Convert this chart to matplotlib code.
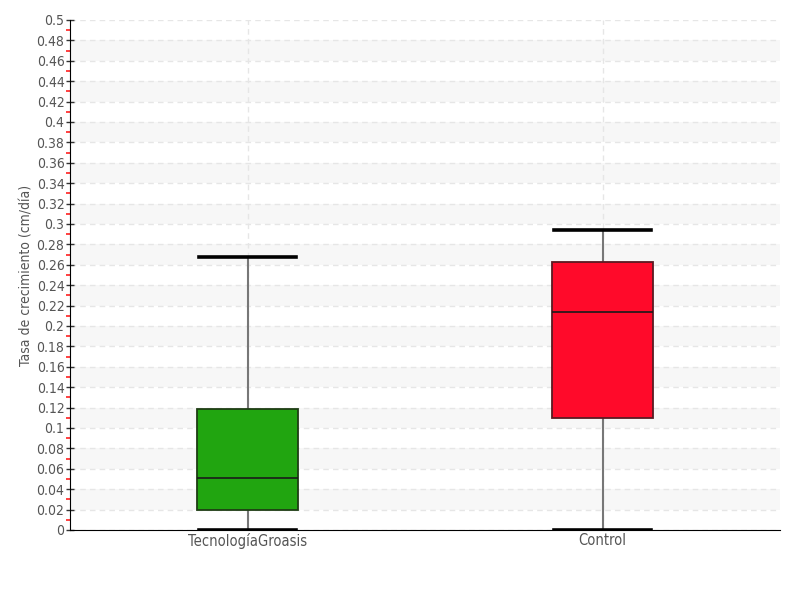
import matplotlib
matplotlib.use("Agg")
import matplotlib.pyplot as plt
from matplotlib.ticker import FuncFormatter, MultipleLocator

categories = ["TecnologíaGroasis", "Control"]
whislo = [0.0, 0.0]
q1 = [0.0196, 0.110]
med = [0.0505, 0.2137]
q3 = [0.1186, 0.2632]
whishi = [0.2672, 0.2941]
colors = ["#21a510", "#ff0a2a"]
edgecolors = ["#1e3d14", "#5a1a22"]

plt.rcParams['font.family'] = ['DejaVu Sans']
fig = plt.figure(figsize=(8, 6), dpi=100)
ax = fig.add_axes([0.0875, 0.1167, 0.8875, 0.85])

positions = [0.5, 1.5]
stats = []
for i, c in enumerate(categories):
    stats.append(dict(label=c, whislo=whislo[i], q1=q1[i], med=med[i], q3=q3[i], whishi=whishi[i], fliers=[]))

ax.set_xlim(0, 2)
ax.set_ylim(0, 0.5)

# alternating bands
for y0 in [0.02 + 0.04 * k for k in range(12)]:
    ax.axhspan(y0, y0 + 0.02, color="#f7f7f7", zorder=0, lw=0)

ax.yaxis.set_major_locator(MultipleLocator(0.02))
ax.yaxis.set_minor_locator(MultipleLocator(0.01))
ax.grid(axis='y', which='major', linestyle=(0, (4, 3)), color="#e6e6e6", lw=1, zorder=0.5)
for p in positions:
    ax.axvline(p, linestyle=(0, (4, 3)), color="#e6e6e6", lw=1, zorder=0.5)
ax.set_axisbelow(True)

bp = ax.bxp(stats, positions=positions, widths=0.282, patch_artist=True, showfliers=False,
            whiskerprops=dict(color="#777777", lw=1.5),
            capprops=dict(color="black", lw=2.6),
            medianprops=dict(color="#1a1a1a", lw=1.2),
            boxprops=dict(lw=1.3))
for patch, fc, ec in zip(bp['boxes'], colors, edgecolors):
    patch.set_facecolor(fc)
    patch.set_edgecolor(ec)
    patch.set_zorder(3)
for m in bp['medians']:
    m.set_zorder(4)
for cap in bp['caps']:
    xd = cap.get_xdata()
    cx = (xd[0] + xd[1]) / 2
    cap.set_xdata([cx - 0.137, cx + 0.137])
    cap.set_zorder(4)

ax.set_xticks(positions)
ax.set_xticklabels(categories)
ax.set_xlim(0, 2)

def fmt(v, pos):
    return "%g" % round(v, 2)
ax.yaxis.set_major_formatter(FuncFormatter(fmt))

for s in ['top', 'right']:
    ax.spines[s].set_visible(False)
ax.spines['left'].set_color('black')
ax.spines['bottom'].set_color('black')

ax.tick_params(axis='y', which='major', direction='inout', length=6, width=1, color='#333333',
               labelsize=10, labelcolor='#555555', pad=1)
ax.tick_params(axis='y', which='minor', direction='out', length=3, width=1.2, color='#ff2020')
ax.tick_params(axis='x', length=0, labelsize=10.5, labelcolor='#555555', pad=2)
for lab in ax.get_xticklabels() + ax.get_yticklabels():
    lab.set_fontstretch('condensed')
    lab.set_family('DejaVu Sans')

ax.set_ylabel("Tasa de crecimiento (cm/día)", fontsize=10, color='#555555',
              fontstretch='condensed')
ax.yaxis.set_label_coords(-0.051, 0.5)

fig.savefig("out.png", dpi=100)
